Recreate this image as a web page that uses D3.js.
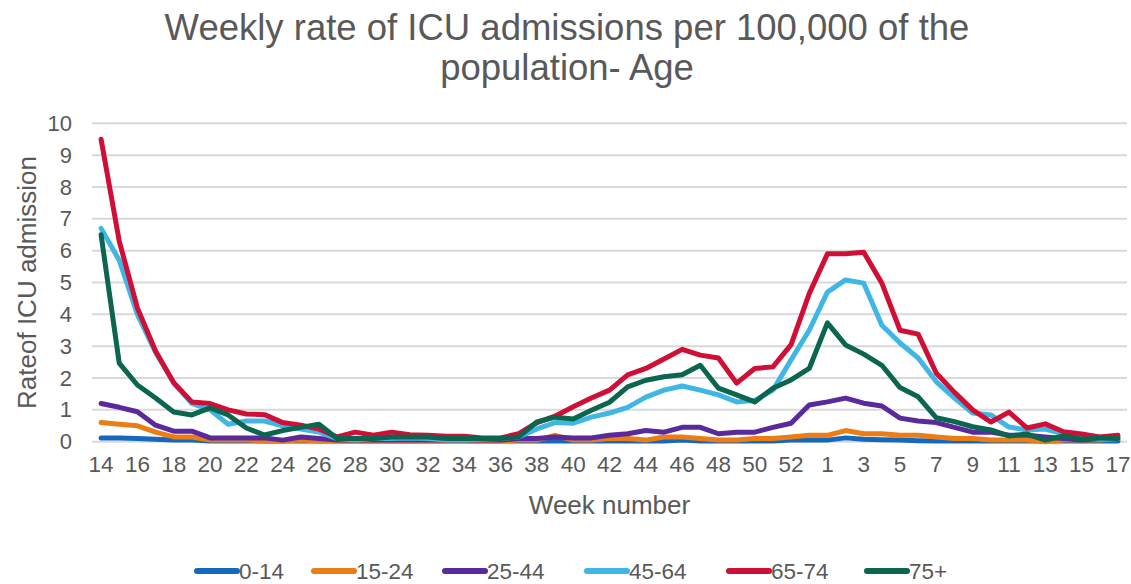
<!DOCTYPE html>
<html><head><meta charset="utf-8">
<script src="https://cdn.jsdelivr.net/npm/d3@7"></script>
<style>
html,body{margin:0;padding:0;background:#fff;}
svg text{font-family:"Liberation Sans",Arial,sans-serif;fill:#595959;}
</style></head>
<body><svg id="chart" width="1131" height="584"></svg>
<script>
const weeks = [14,15,16,17,18,19,20,21,22,23,24,25,26,27,28,29,30,31,32,33,34,35,36,37,38,39,40,41,42,43,44,45,46,47,48,49,50,51,52,53,1,2,3,4,5,6,7,8,9,10,11,12,13,14,15,16,17];
const seriesNames = ["0-14","15-24","25-44","45-64","65-74","75+"];
const seriesColors = ["#1469bd","#ec7d14","#5a2a9c","#3fb6e4","#cf0f35","#0b654f"];
const age0_14 = [0.12,0.12,0.1,0.08,0.05,0.05,0.02,0.02,0.02,0.02,0.02,0.02,0.02,0.02,0.02,0.02,0.02,0.02,0.02,0.02,0.02,0.02,0.02,0.02,0.02,0.02,0.02,0.02,0.02,0.02,0.02,0.02,0.05,0.02,0.02,0.02,0.02,0.02,0.05,0.05,0.05,0.12,0.08,0.06,0.05,0.03,0.02,0.02,0.02,0.02,0.02,0.02,0.02,0.02,0.02,0.02,0.02];
const age15_24 = [0.6,0.55,0.5,0.3,0.15,0.15,0.05,0.05,0.05,0.02,0.02,0.05,0.02,0.02,0.02,0.02,0.02,0.02,0.02,0.02,0.02,0.02,0.02,0.05,0.05,0.2,0.05,0.05,0.1,0.1,0.05,0.15,0.15,0.1,0.05,0.05,0.1,0.1,0.15,0.2,0.2,0.35,0.25,0.25,0.2,0.2,0.15,0.1,0.1,0.05,0.05,0.05,0.0,0.05,0.05,0.05,0.1];
const age25_44 = [1.2,1.08,0.94,0.52,0.33,0.33,0.12,0.12,0.12,0.12,0.05,0.15,0.1,0.05,0.05,0.05,0.05,0.05,0.05,0.05,0.05,0.05,0.05,0.1,0.1,0.15,0.12,0.12,0.2,0.25,0.35,0.3,0.45,0.45,0.25,0.3,0.3,0.45,0.58,1.15,1.25,1.37,1.21,1.12,0.74,0.65,0.6,0.45,0.3,0.3,0.2,0.2,0.15,0.1,0.05,0.1,0.15];
const age45_64 = [6.7,5.7,4.0,2.8,1.85,1.2,1.0,0.55,0.65,0.65,0.5,0.4,0.3,0.1,0.05,0.1,0.1,0.12,0.1,0.05,0.05,0.08,0.1,0.15,0.4,0.6,0.58,0.77,0.9,1.08,1.4,1.62,1.75,1.62,1.47,1.25,1.3,1.62,2.57,3.5,4.7,5.08,4.98,3.66,3.1,2.63,1.88,1.37,0.9,0.84,0.46,0.37,0.4,0.25,0.15,0.1,0.1];
const age65_74 = [9.5,6.3,4.2,2.85,1.85,1.25,1.2,1.0,0.87,0.85,0.6,0.52,0.4,0.15,0.3,0.2,0.3,0.22,0.2,0.17,0.17,0.12,0.12,0.25,0.6,0.8,1.1,1.37,1.62,2.1,2.3,2.6,2.9,2.72,2.63,1.84,2.3,2.35,3.05,4.65,5.9,5.9,5.95,4.98,3.5,3.38,2.15,1.55,1.0,0.62,0.93,0.43,0.56,0.31,0.24,0.15,0.2];
const age75plus = [6.5,2.47,1.78,1.37,0.93,0.84,1.06,0.84,0.43,0.21,0.35,0.45,0.55,0.1,0.1,0.1,0.15,0.15,0.15,0.1,0.1,0.1,0.1,0.15,0.62,0.77,0.71,0.99,1.24,1.72,1.93,2.04,2.1,2.4,1.68,1.47,1.25,1.68,1.94,2.3,3.73,3.04,2.75,2.4,1.7,1.41,0.75,0.63,0.47,0.37,0.18,0.24,0.05,0.18,0.08,0.12,0.1];
const yTicks = [0,1,2,3,4,5,6,7,8,9,10];
const titleLines = ["Weekly rate of ICU admissions per 100,000 of the","population- Age"];
const xTitle = "Week number";
const yTitle = "Rateof ICU admission";

const seriesValues = [age0_14, age15_24, age25_44, age45_64, age65_74, age75plus];
const svg = d3.select("#chart");
const plotL = 92, plotR = 1127, plotT = 123.3, plotB = 441.7;

const idx = weeks.map((d,i)=>i);
const x = d3.scaleBand().domain(idx).range([plotL,plotR]).padding(0);
const cx = i => x(i) + x.bandwidth()/2;
const y = d3.scaleLinear().domain([0,10]).range([plotB,plotT]);

// title
svg.selectAll("text.title").data(titleLines).enter().append("text")
  .attr("class","title").attr("x",567).attr("y",(d,i)=>40+i*40)
  .attr("text-anchor","middle").style("font-size","36.5px").text(d=>d);

// gridlines
svg.append("g").selectAll("line").data(yTicks).enter().append("line")
  .attr("x1",plotL).attr("x2",plotR).attr("y1",d=>y(d)).attr("y2",d=>y(d))
  .attr("stroke","#d9d9d9").attr("stroke-width",2);

// y axis
const yAxis = svg.append("g").attr("transform",`translate(${plotL},0)`)
  .call(d3.axisLeft(y).tickValues(yTicks).tickSize(0).tickPadding(20));
yAxis.select(".domain").remove();
yAxis.selectAll("text").style("font-size","22px").style("font-family","'Liberation Sans',Arial,sans-serif").attr("fill","#595959");

// x axis
const xAxis = svg.append("g").attr("transform",`translate(0,${plotB})`)
  .call(d3.axisBottom(x).tickValues(idx.filter(i=>i%2===0)).tickFormat(i=>weeks[i]).tickSize(0).tickPadding(14));
xAxis.select(".domain").remove();
xAxis.selectAll("text").style("font-size","22.5px").style("font-family","'Liberation Sans',Arial,sans-serif").attr("fill","#595959");

// axis titles
svg.append("text").attr("x",(plotL+plotR)/2).attr("y",514).attr("text-anchor","middle")
  .style("font-size","26px").text(xTitle);
svg.append("text").attr("transform",`translate(36,${(plotT+plotB)/2}) rotate(-90)`)
  .attr("text-anchor","middle").style("font-size","26px").text(yTitle);

// lines
const line = d3.line().x((d,i)=>cx(i)).y(d=>y(d));
svg.append("g").selectAll("path").data(seriesValues).enter().append("path")
  .attr("d",d=>line(d)).attr("fill","none")
  .attr("stroke",(d,i)=>seriesColors[i]).attr("stroke-width",5)
  .attr("stroke-linejoin","round").attr("stroke-linecap","round");

// legend
const legendX = [195,312,443,585,727,865];
const lg = svg.append("g").selectAll("g").data(seriesNames).enter().append("g")
  .attr("transform",(d,i)=>`translate(${legendX[i]},571)`);
lg.append("line").attr("x1",2).attr("x2",42).attr("y1",0).attr("y2",0)
  .attr("stroke",(d,i)=>seriesColors[i]).attr("stroke-width",6).attr("stroke-linecap","round");
lg.append("text").attr("x",44).attr("y",8).style("font-size","22.5px").text(d=>d);
</script></body></html>
